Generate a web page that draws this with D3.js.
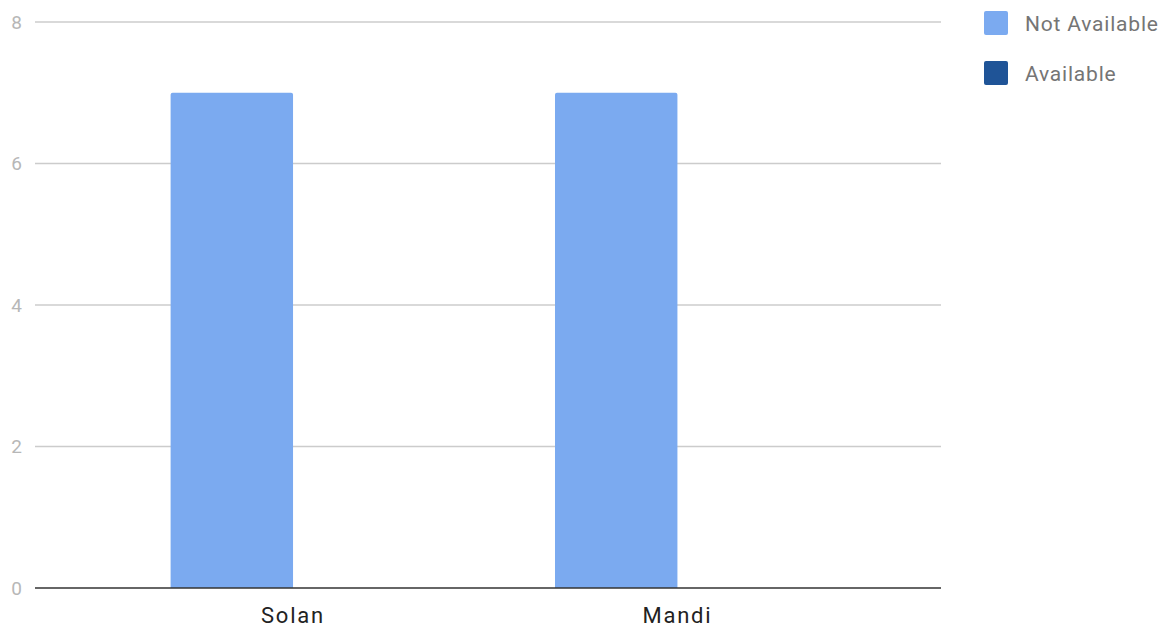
<!DOCTYPE html>
<html>
<head>
<meta charset="utf-8">
<script src="https://cdn.jsdelivr.net/npm/d3@7"></script>
<style>
  body { margin: 0; background: #fff; }
  svg { font-family: Roboto, "Noto Sans", sans-serif; }
</style>
</head>
<body>
<svg id="chart"></svg>
<script>
const districts = ["Solan", "Mandi"]
const seriesNames = ["Not Available", "Available"]
const notAvailable = [7, 7]
const available = [0, 0]
const yTicks = [0, 2, 4, 6, 8]
const colors = ["#7baaf0", "#1f5497"]

const width = 1168, height = 631
const margins = {left: 35, right: 227, top: 22, bottom: 43}

const svg = d3.select("#chart").attr("width", width).attr("height", height)

const rows = districts.map((d, i) => ({district: d, values: [notAvailable[i], available[i]]}))

const scaleX = d3.scaleBand().domain(districts)
    .range([margins.left, width - margins.right])
    .paddingInner(0.363).paddingOuter(0.36).align(0.49)
const scaleSeries = d3.scaleBand().domain(seriesNames).range([0, scaleX.bandwidth()])
const scaleY = d3.scaleLinear().domain([0, 8]).range([height - margins.bottom, margins.top])

// gridlines + y labels
const grid = svg.append("g")
grid.selectAll("line").data(yTicks.filter(t => t > 0)).join("line")
    .attr("x1", margins.left).attr("x2", width - margins.right)
    .attr("y1", d => scaleY(d)).attr("y2", d => scaleY(d))
    .attr("stroke", "#cccccc").attr("stroke-width", 1.5)
grid.selectAll("text").data(yTicks).join("text")
    .attr("x", 22).attr("y", d => scaleY(d)).attr("dy", "0.36em")
    .attr("text-anchor", "end").attr("fill", "#b7b7b7").attr("font-size", 19)
    .text(d => d)

// bars
const groups = svg.append("g").selectAll("g").data(rows).join("g")
    .attr("transform", d => `translate(${scaleX(d.district)},0)`)
groups.selectAll("path").data(d => d.values.map((v, i) => ({name: seriesNames[i], value: v, color: colors[i]})))
    .join("path")
    .attr("fill", d => d.color)
    .attr("d", d => {
        const x0 = scaleSeries(d.name), w = scaleSeries.bandwidth()
        const y0 = scaleY(0), y1 = scaleY(d.value), r = Math.min(2, (y0 - y1) / 2)
        if (y0 - y1 <= 0) return ""
        return `M${x0},${y0}V${y1 + r}Q${x0},${y1} ${x0 + r},${y1}H${x0 + w - r}Q${x0 + w},${y1} ${x0 + w},${y1 + r}V${y0}Z`
    })

// baseline
svg.append("line")
    .attr("x1", margins.left).attr("x2", width - margins.right)
    .attr("y1", scaleY(0)).attr("y2", scaleY(0))
    .attr("stroke", "#333333").attr("stroke-width", 1.5)

// x labels
svg.append("g").selectAll("text").data(districts).join("text")
    .attr("x", d => scaleX(d) + scaleX.bandwidth() / 2)
    .attr("y", 623)
    .attr("text-anchor", "middle").attr("fill", "#222").attr("font-size", 22)
    .attr("letter-spacing", 1.8)
    .text(d => d)

// legend
const legend = svg.append("g").selectAll("g").data(seriesNames).join("g")
    .attr("transform", (d, i) => `translate(984, ${11 + i * 50})`)
legend.append("rect").attr("width", 24).attr("height", 24).attr("rx", 2)
    .attr("fill", (d, i) => colors[i])
legend.append("text").attr("x", 41).attr("y", 12).attr("dy", "0.36em")
    .attr("fill", "#757575").attr("font-size", 21)
    .attr("letter-spacing", 0.8)
    .text(d => d)
</script>
</body>
</html>
